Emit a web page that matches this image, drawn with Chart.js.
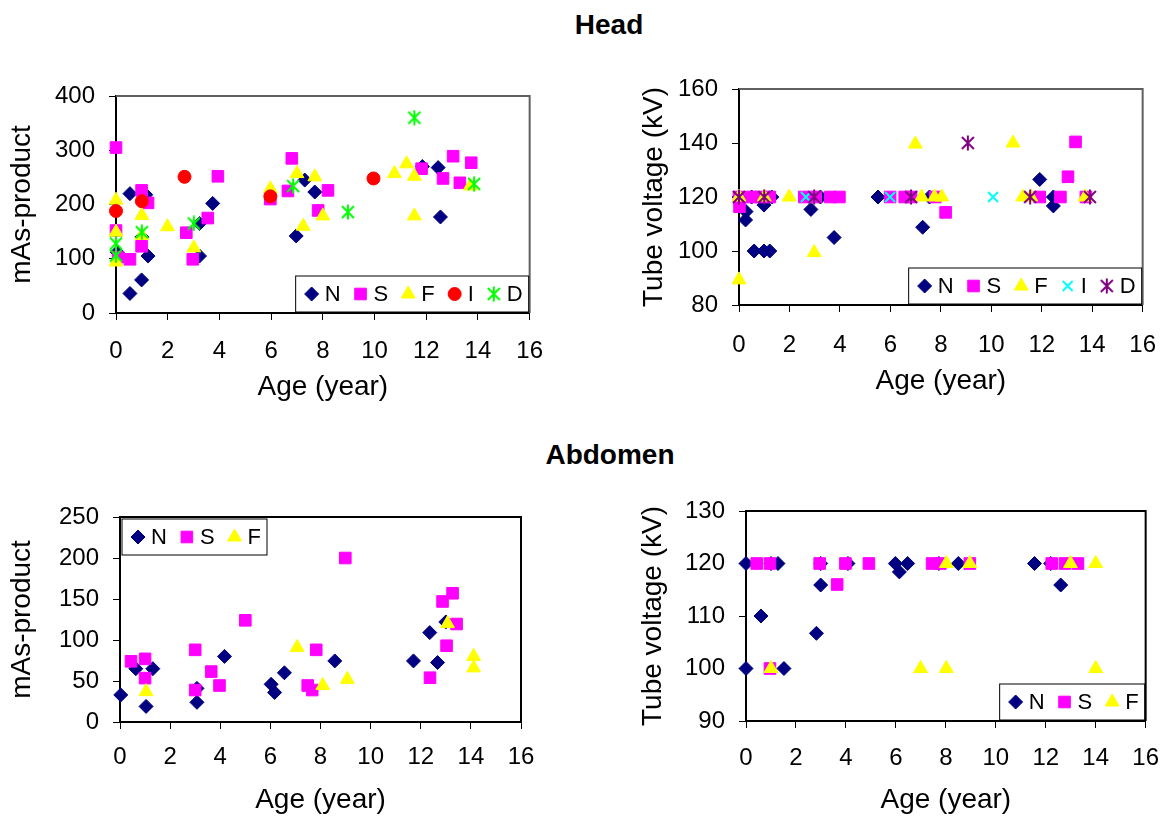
<!DOCTYPE html>
<html>
<head>
<meta charset="utf-8">
<script src="https://cdn.jsdelivr.net/npm/chart.js@4.4.1/dist/chart.umd.min.js"></script>
<style>
  body { margin: 0; background: #fff; }
  #page { position: relative; width: 1175px; height: 817px; overflow: hidden; background: #fff;
          font-family: "Liberation Sans", Arial, sans-serif; color: #000; }
  .heading { position: absolute; transform: translate(-50%, -50%); font-weight: bold; font-size: 28px; white-space: nowrap; }
  canvas { position: absolute; }
</style>
</head>
<body>
<div id="page">
  <div class="heading" style="left:609px;top:25px">Head</div>
  <div class="heading" style="left:610px;top:455px">Abdomen</div>
  <canvas id="headMas" width="560" height="360" style="left:0;top:60px"></canvas>
  <canvas id="headKv" width="595" height="360" style="left:580px;top:60px"></canvas>
  <canvas id="abdMas" width="560" height="337" style="left:0;top:480px"></canvas>
  <canvas id="abdKv" width="595" height="337" style="left:580px;top:480px"></canvas>
</div>
<script>
const FONT = '"Liberation Sans", Arial, sans-serif';

// ---- Head: mAs-product vs age
const headMasNx = [0.05, 0.54, 0.54, 0.99, 1, 1.15, 1.24, 3.23, 3.23, 3.74, 6.97, 7.3, 7.69, 11.85, 12.46, 12.55];
const headMasNy = [112, 36, 220, 61, 140, 218, 105, 165, 105, 202, 142, 245, 223, 270, 268, 177];
const headMasSx = [0, 0, 0.08, 0.54, 0.99, 0.99, 1.24, 2.72, 2.97, 3.55, 3.94, 5.97, 6.65, 6.8, 7.82, 8.2, 11.82, 12.65, 13.04, 13.3, 13.74];
const headMasSy = [305, 152, 103, 99, 226, 123, 203, 148, 99, 175, 252, 210, 225, 285, 189, 226, 266, 248, 289, 240, 277];
const headMasFx = [0, 0, 0, 1, 1, 1.99, 3.01, 5.97, 7, 7.24, 7.69, 8, 10.77, 11.24, 11.54, 11.54, 13.7];
const headMasFy = [208, 149, 94, 180, 143, 159, 120, 229, 257, 160, 251, 179, 257, 275, 252, 179, 234];
const headMasIx = [0, 1, 2.65, 5.97, 9.96];
const headMasIy = [188, 206, 251, 215, 248];
const headMasDx = [0, 0, 1, 3.01, 6.85, 8.97, 11.54, 13.85];
const headMasDy = [128, 106, 149, 165, 234, 186, 360, 238];

// ---- Head: tube voltage vs age
const headKvNx = [0, 0.26, 0.28, 0.5, 0.6, 0.99, 0.99, 1.22, 1.3, 2.85, 3.23, 3.77, 5.51, 7.28, 7.55, 11.92, 12.46, 12.46];
const headKvNy = [120, 111.5, 114.6, 120, 100, 100, 117, 100, 120, 115.4, 120, 105, 120, 108.8, 120, 126.5, 120, 116.7];
const headKvSx = [0, 0.02, 0.48, 0.86, 1.22, 2.59, 3.04, 3.62, 3.98, 5.99, 6.57, 6.82, 7.78, 8.19, 11.92, 12.74, 13.04, 13.34, 13.75];
const headKvSy = [120, 116.4, 120, 120, 120, 120, 120, 120, 120, 120, 120, 120, 120, 114.3, 120, 120, 127.5, 140.4, 120];
const headKvFx = [0, 0, 1, 1.99, 2.98, 6.99, 7.24, 7.75, 8.04, 10.86, 11.25, 11.57, 13.72];
const headKvFy = [89.3, 120, 120, 120, 99.4, 139.6, 120, 120, 120, 140, 120, 120, 120];
const headKvIx = [2.65, 5.99, 10.07];
const headKvIy = [120, 120, 120];
const headKvDx = [0, 1, 2.98, 6.82, 9.07, 11.54, 13.91];
const headKvDy = [120, 120, 120, 120, 140, 120, 120];

// ---- Abdomen: mAs-product vs age
const abdMasNx = [0.03, 0.63, 1.04, 1.31, 3.07, 3.07, 4.17, 6.03, 6.17, 6.56, 8.57, 11.71, 12.36, 12.67, 13];
const abdMasNy = [33, 65, 19, 65, 41, 24, 80, 46, 36, 60, 74.5, 74.5, 109, 72.5, 122];
const abdMasSx = [0.44, 1, 1, 3, 3, 3.64, 3.97, 5, 7.49, 7.67, 7.83, 8.99, 12.37, 12.87, 13.03, 13.27, 13.43];
const abdMasSy = [74, 77, 53.5, 88, 39, 61.5, 44.5, 124, 44.5, 39, 88, 200, 54, 147, 93, 157, 119.5];
const abdMasFx = [1.04, 7.07, 8.09, 9.07, 13.07, 14.11, 14.11];
const abdMasFy = [37, 91, 44.5, 52, 120, 80, 66];

// ---- Abdomen: tube voltage vs age
const abdKvNx = [0, 0, 0.6, 1, 1.28, 1.52, 2.82, 2.99, 2.99, 4.08, 5.98, 6.14, 6.47, 7.72, 8.5, 11.55, 12.2, 12.6];
const abdKvNy = [120, 100, 110, 120, 120, 100, 106.7, 115.9, 120, 120, 120, 118.4, 120, 120, 120, 120, 120, 115.9];
const abdKvSx = [0.43, 0.96, 0.96, 2.95, 3.65, 3.98, 4.92, 7.45, 7.78, 8.96, 12.24, 12.77, 13.29];
const abdKvSy = [120, 120, 100, 120, 116, 120, 120, 120, 120, 120, 120, 120, 120];
const abdKvFx = [1, 6.99, 8.02, 8.02, 8.96, 12.99, 14, 14];
const abdKvFy = [100, 100, 100, 120, 120, 120, 120, 100];

const pts = (xs, ys) => xs.map((x, i) => ({ x: x, y: ys[i] }));

// excel-like asterisk marker: an X with a vertical bar through it
function asterisk(color) {
  const c = document.createElement('canvas');
  c.width = c.height = 16;
  const g = c.getContext('2d');
  g.strokeStyle = color;
  g.lineWidth = 2;
  g.beginPath();
  g.moveTo(2, 2); g.lineTo(14, 14);
  g.moveTo(14, 2); g.lineTo(2, 14);
  g.moveTo(8, 0.5); g.lineTo(8, 15.5);
  g.stroke();
  return c;
}

const STYLE = {
  N: { pointStyle: 'rectRot', radius: 7, color: '#000080', bw: 1 },
  S: { pointStyle: 'rect', radius: 8.2, color: '#ff00ff', bw: 1 },
  F: { pointStyle: 'triangle', radius: 8, color: '#ffff00', bw: 1 },
  Ired: { pointStyle: 'circle', radius: 6.5, color: '#ff0000', bw: 1 },
  Icyan: { pointStyle: 'crossRot', radius: 7, color: '#00ffff', bw: 2 },
  Dgreen: { pointStyle: asterisk('#00ff00'), radius: 8, color: '#00ff00', bw: 2 },
  Dpurple: { pointStyle: asterisk('#800080'), radius: 8, color: '#800080', bw: 2 }
};

function series(label, style, data, order) {
  return {
    label: label, data: data, order: order, clip: false,
    pointStyle: style.pointStyle, pointRadius: style.radius, pointHoverRadius: style.radius,
    backgroundColor: style.color, borderColor: style.color, borderWidth: style.bw,
    showLine: false
  };
}

// top and right edges of the plot area
const frame = {
  id: 'frame',
  beforeDatasetsDraw(chart, args, opts) {
    const { ctx, chartArea: a } = chart;
    ctx.save();
    ctx.strokeStyle = opts.color || '#000';
    ctx.lineWidth = 2;
    ctx.beginPath();
    ctx.moveTo(a.left, a.top);
    ctx.lineTo(a.right, a.top);
    ctx.lineTo(a.right, a.bottom);
    ctx.stroke();
    ctx.restore();
  }
};

// boxed legend sitting inside the plot area
const boxLegend = {
  id: 'boxLegend',
  afterDraw(chart, args, opts) {
    const { ctx, chartArea: a } = chart;
    const sets = chart.data.datasets;
    ctx.save();
    ctx.font = '22px ' + FONT;
    const widths = sets.map(d => ctx.measureText(d.label).width);
    const w = 8 + widths.reduce((s, tw) => s + 21 + tw, 0) + 12 * (sets.length - 1) + 6;
    const h = 36;
    const left = opts.corner === 'tl' ? a.left + 2 : a.right - 1 - w;
    const top = opts.corner === 'tl' ? a.top + 2 : a.bottom - 1 - h;
    ctx.fillStyle = '#fff';
    ctx.fillRect(left, top, w, h);
    ctx.strokeStyle = '#000';
    ctx.lineWidth = 1;
    ctx.strokeRect(left, top, w, h);
    let cx = left + 8;
    const cy = top + h / 2;
    sets.forEach((d, i) => {
      ctx.fillStyle = d.backgroundColor;
      ctx.strokeStyle = d.borderColor;
      ctx.lineWidth = d.borderWidth;
      Chart.helpers.drawPoint(ctx, { pointStyle: d.pointStyle, radius: d.pointRadius, rotation: 0, borderWidth: d.borderWidth }, cx + 8, cy);
      ctx.fillStyle = '#000';
      ctx.textBaseline = 'middle';
      ctx.textAlign = 'left';
      ctx.fillText(d.label, cx + 21, cy + 1);
      cx += 21 + widths[i] + 12;
    });
    ctx.restore();
  }
};

function panel(id, p) {
  const tickFont = { family: FONT, size: 24 };
  const titleFont = { family: FONT, size: 28 };
  return new Chart(document.getElementById(id), {
    type: 'scatter',
    data: { datasets: p.datasets },
    options: {
      responsive: false,
      animation: false,
      events: [],
      layout: { padding: { left: 0, top: p.padTop, right: p.padRight, bottom: 0 } },
      plugins: {
        legend: { display: false },
        tooltip: { enabled: false },
        frame: { color: p.frameColor },
        boxLegend: { corner: p.legendCorner }
      },
      scales: {
        x: {
          type: 'linear', min: 0, max: 16,
          ticks: { stepSize: 2, padding: p.xTickPad, color: '#000', font: tickFont, maxRotation: 0 },
          grid: { drawOnChartArea: false, drawTicks: true, tickLength: 7, color: '#000' },
          border: { color: '#000', width: 2 },
          title: { display: true, text: 'Age (year)', color: '#000', font: titleFont, padding: { top: 0, bottom: p.xTitlePad } },
          afterFit: s => { s.height = p.xHeight; }
        },
        y: {
          type: 'linear', min: p.yMin, max: p.yMax,
          ticks: { stepSize: p.yStep, padding: 14, color: '#000', font: tickFont },
          grid: { drawOnChartArea: false, drawTicks: true, tickLength: 7, color: '#000' },
          border: { color: '#000', width: 2 },
          title: { display: true, text: p.yTitle, color: '#000', font: titleFont, padding: { top: p.yTitlePad, bottom: 0 } },
          afterFit: s => { s.width = p.yWidth; }
        }
      }
    },
    plugins: [frame, boxLegend]
  });
}

panel('headMas', {
  yMin: 0, yMax: 400, yStep: 100, yTitle: 'mAs-product',
  yWidth: 116, xHeight: 107, padTop: 36, padRight: 28,
  xTickPad: 17, xTitlePad: 16, yTitlePad: 5,
  frameColor: '#606060', legendCorner: 'br',
  datasets: [
    series('N', STYLE.N, pts(headMasNx, headMasNy), 5),
    series('S', STYLE.S, pts(headMasSx, headMasSy), 4),
    series('F', STYLE.F, pts(headMasFx, headMasFy), 3),
    series('I', STYLE.Ired, pts(headMasIx, headMasIy), 2),
    series('D', STYLE.Dgreen, pts(headMasDx, headMasDy), 1)
  ]
});

panel('headKv', {
  yMin: 80, yMax: 160, yStep: 20, yTitle: 'Tube voltage (kV)',
  yWidth: 159, xHeight: 115, padTop: 29, padRight: 18,
  xTickPad: 19, xTitlePad: 22, yTitlePad: 57,
  frameColor: '#606060', legendCorner: 'br',
  datasets: [
    series('N', STYLE.N, pts(headKvNx, headKvNy), 5),
    series('S', STYLE.S, pts(headKvSx, headKvSy), 4),
    series('F', STYLE.F, pts(headKvFx, headKvFy), 3),
    series('I', STYLE.Icyan, pts(headKvIx, headKvIy), 2),
    series('D', STYLE.Dpurple, pts(headKvDx, headKvDy), 1)
  ]
});

panel('abdMas', {
  yMin: 0, yMax: 250, yStep: 50, yTitle: 'mAs-product',
  yWidth: 120, xHeight: 95, padTop: 37, padRight: 39,
  xTickPad: 14, xTitlePad: 0, yTitlePad: 5,
  frameColor: '#000', legendCorner: 'tl',
  datasets: [
    series('N', STYLE.N, pts(abdMasNx, abdMasNy), 3),
    series('S', STYLE.S, pts(abdMasSx, abdMasSy), 2),
    series('F', STYLE.F, pts(abdMasFx, abdMasFy), 1)
  ]
});

panel('abdKv', {
  yMin: 90, yMax: 130, yStep: 10, yTitle: 'Tube voltage (kV)',
  yWidth: 166, xHeight: 96, padTop: 31, padRight: 23,
  xTickPad: 16, xTitlePad: 0, yTitlePad: 56,
  frameColor: '#000', legendCorner: 'br',
  datasets: [
    series('N', STYLE.N, pts(abdKvNx, abdKvNy), 3),
    series('S', STYLE.S, pts(abdKvSx, abdKvSy), 2),
    series('F', STYLE.F, pts(abdKvFx, abdKvFy), 1)
  ]
});
</script>
</body>
</html>
